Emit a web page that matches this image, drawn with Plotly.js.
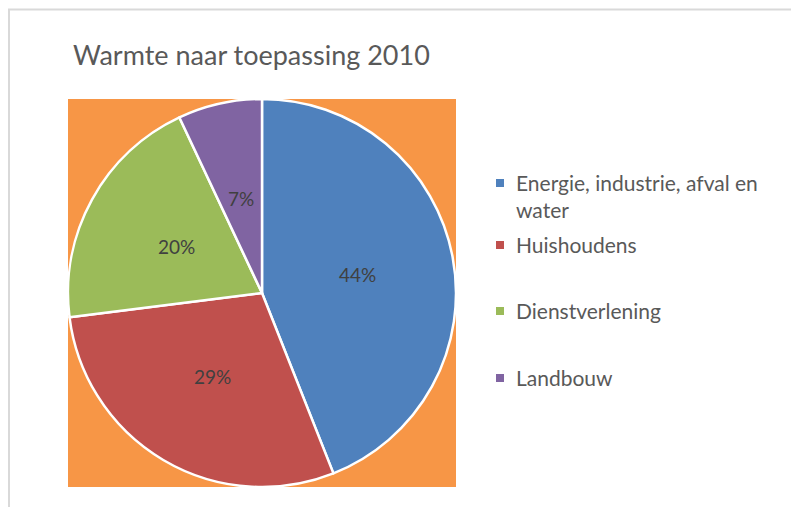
<!DOCTYPE html>
<html>
<head>
<meta charset="utf-8">
<script src="https://cdn.plot.ly/plotly-3.0.1.min.js"></script>
<style>html,body{margin:0;padding:0;background:#fff;}#chart{width:791px;height:507px;}</style>
</head>
<body>
<div id="chart"></div>
<script>
const categories = ["Energie, industrie, afval en water", "Huishoudens", "Dienstverlening", "Landbouw"];
const legendLabels = ["Energie, industrie, afval en<br>water", "Huishoudens", "Dienstverlening", "Landbouw"];
const values = [44, 29, 20, 7];
const colors = ["#4F81BD", "#C0504D", "#9BBB59", "#8064A2"];
const titleText = "Warmte naar toepassing 2010";

const W = 791, H = 507;
const px = x => x / W;
const py = y => 1 - y / H;
const FONT = "Lato, 'Open Sans', sans-serif";
const GRAY = "#595959";

// pie geometry (pixels)
const CX = 262, CY = 293, R = 194;

const trace = {
  type: "pie",
  labels: categories,
  values: values,
  sort: false,
  direction: "clockwise",
  rotation: 0,
  marker: { colors: colors, line: { color: "#ffffff", width: 2.5 } },
  textinfo: "none",
  domain: { x: [px(CX - R), px(CX + R)], y: [py(CY + R), py(CY - R)] },
  showlegend: false,
  hoverinfo: "label+percent"
};

const shapes = [
  { type: "rect", xref: "paper", yref: "paper", x0: px(68), x1: px(456), y0: py(487), y1: py(99),
    fillcolor: "#F79646", line: { width: 0 }, layer: "below" },
  { type: "line", xref: "paper", yref: "paper", x0: px(9), x1: px(9), y0: py(9), y1: 0,
    line: { color: "#d9d9d9", width: 2 } },
  { type: "line", xref: "paper", yref: "paper", x0: px(8), x1: 1, y0: py(9.5), y1: py(9.5),
    line: { color: "#d9d9d9", width: 2 } }
];

const annotations = [];

// data labels at half radius, mid-angle of each slice (derived from values)
const total = values.reduce((a, b) => a + b, 0);
let cum = 0;
values.forEach((v, i) => {
  const mid = (cum + v / 2) / total * 2 * Math.PI;
  cum += v;
  const lx = CX + 0.5 * R * Math.sin(mid);
  const ly = CY - 0.5 * R * Math.cos(mid);
  annotations.push({ xref: "paper", yref: "paper", x: px(lx), y: py(ly),
    xanchor: "center", yanchor: "middle", showarrow: false,
    text: Math.round(v / total * 100) + "%",
    font: { family: FONT, size: 19, color: "#404040" } });
});

const legendY = [183, 245, 311, 378];
categories.forEach((c, i) => {
  shapes.push({ type: "rect", xref: "paper", yref: "paper",
    x0: px(496), x1: px(504), y0: py(legendY[i] + 4), y1: py(legendY[i] - 4),
    fillcolor: colors[i], line: { width: 0 } });
  annotations.push({ xref: "paper", yref: "paper", x: px(514), y: py(legendY[i] - 15),
    xanchor: "left", yanchor: "top", align: "left", showarrow: false,
    text: legendLabels[i], font: { family: FONT, size: 21, color: GRAY } });
});

const layout = {
  width: W, height: H,
  margin: { l: 0, r: 0, t: 0, b: 0 },
  paper_bgcolor: "#ffffff",
  title: { text: titleText, x: px(73), xanchor: "left", y: py(56), yanchor: "middle",
    font: { family: FONT, size: 27, color: GRAY } },
  shapes: shapes,
  annotations: annotations,
  showlegend: false
};

Plotly.newPlot("chart", [trace], layout, { displayModeBar: false, staticPlot: true });
</script>
</body>
</html>
